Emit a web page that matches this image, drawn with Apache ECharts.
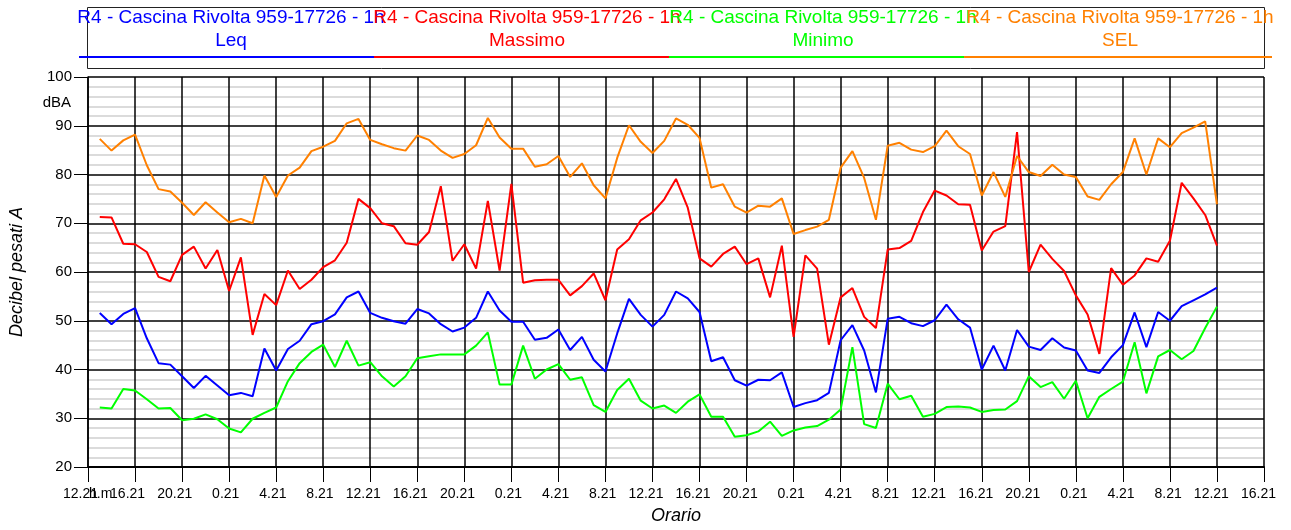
<!DOCTYPE html>
<html><head><meta charset="utf-8">
<script src="https://cdn.jsdelivr.net/npm/echarts@6/dist/echarts.min.js"></script>
<style>html,body{margin:0;padding:0;background:#fff}#c{width:1291px;height:530px}</style>
</head><body><div id="c"></div>
<script>
// ---- data ----
const tickLabels = ['12.21','16.21','20.21','0.21','4.21','8.21',
  '12.21','16.21','20.21','0.21','4.21','8.21',
  '12.21','16.21','20.21','0.21','4.21','8.21',
  '12.21','16.21','20.21','0.21','4.21','8.21',
  '12.21','16.21'];
const yTickLabels = ['20','30','40','50','60','70','80','90','100'];
const legendTitle = 'R4 - Cascina Rivolta 959-17726 - 1h';
const seriesNames = ['Leq','Massimo','Minimo','SEL'];
const yUnit = 'dBA';
const xUnit = 'h.m';
const yName = 'Decibel pesati A';
const xName = 'Orario';

const leq = [51.6,49.3,51.4,52.6,46.4,41.3,41.0,38.6,36.2,38.7,36.7,34.7,35.2,34.5,44.3,39.8,44.2,45.9,49.3,49.9,51.3,54.8,56.0,51.6,
  50.6,49.9,49.4,52.4,51.5,49.3,47.8,48.6,50.6,56.0,52.1,49.8,49.8,46.1,46.5,48.2,44.0,46.7,42.0,39.6,47.4,54.5,51.2,48.8,
  51.2,56.0,54.6,51.8,41.7,42.5,37.8,36.7,37.9,37.8,39.4,32.3,33.1,33.7,35.2,46.0,49.1,43.9,35.3,50.4,50.8,49.5,48.9,50.1,
  53.3,50.3,48.6,40.0,44.9,39.8,48.1,44.7,44.0,46.4,44.5,43.9,39.8,39.3,42.5,45.0,51.7,44.6,51.8,50.0,53.0,54.2,55.4,56.8];
const massimo = [71.3,71.2,65.8,65.7,64.1,59.0,58.1,63.5,65.2,60.7,64.5,56.1,63.0,47.1,55.5,53.2,60.3,56.5,58.4,61.0,62.4,66.0,75.0,73.1,
  70.0,69.4,65.9,65.6,68.2,77.6,62.3,65.7,60.7,74.6,60.3,78.1,57.8,58.3,58.4,58.4,55.2,57.1,59.7,54.2,64.6,66.7,70.6,72.2,
  74.9,79.1,73.2,62.8,61.1,63.7,65.2,61.6,62.8,54.8,65.4,46.7,63.4,60.7,45.1,54.8,56.7,50.8,48.5,64.6,64.9,66.4,72.3,76.7,
  75.7,73.9,73.8,64.4,68.3,69.4,88.7,60.0,65.6,62.7,60.2,55.2,51.3,43.2,60.8,57.4,59.3,62.8,62.1,66.4,78.3,75.1,71.7,65.4];
const minimo = [32.2,32.0,36.0,35.7,33.9,32.0,32.1,29.6,29.9,30.8,29.8,27.9,27.1,29.9,31.1,32.2,37.6,41.3,43.6,45.1,40.5,45.9,40.8,41.5,
  38.6,36.5,38.6,42.3,42.7,43.1,43.1,43.1,44.9,47.6,36.9,36.9,44.9,38.1,40.0,41.1,37.9,38.4,32.7,31.3,35.8,38.1,33.6,32.0,
  32.6,31.1,33.4,34.9,30.3,30.3,26.2,26.5,27.3,29.3,26.4,27.5,28.1,28.4,29.7,31.8,44.6,28.8,28.0,37.1,33.9,34.6,30.3,30.9,
  32.3,32.4,32.2,31.3,31.7,31.8,33.5,38.6,36.4,37.4,34.0,37.7,30.0,34.4,36.0,37.5,45.6,35.1,42.7,44.0,42.1,43.8,48.5,52.9];
const sel = [87.3,84.9,87.0,88.2,81.9,77.0,76.5,74.2,71.7,74.3,72.2,70.2,70.9,70.0,79.8,75.4,79.8,81.4,84.8,85.7,86.9,90.5,91.4,87.1,
  86.2,85.4,84.9,88.0,87.1,84.9,83.4,84.2,86.0,91.6,87.6,85.3,85.3,81.6,82.1,83.8,79.5,82.3,77.8,75.1,83.4,90.1,86.7,84.4,
  86.9,91.5,90.2,87.5,77.3,78.0,73.4,72.2,73.6,73.4,75.1,67.8,68.6,69.3,70.7,81.4,84.8,79.3,70.7,85.9,86.5,85.1,84.6,85.8,
  89.0,85.8,84.2,75.7,80.5,75.4,83.8,80.5,79.7,82.0,80.0,79.5,75.5,74.8,78.0,80.5,87.4,80.0,87.4,85.6,88.5,89.6,90.9,73.9];

// ---- styles ----
const colors = ['#0000ff','#ff0000','#00ff00','#ff8000'];
const FONT = '"Liberation Sans", Arial, sans-serif';
const values = [leq, massimo, minimo, sel];

const chart = echarts.init(document.getElementById('c'), null, {renderer:'canvas'});

function toPairs(arr){ return arr.map((v,i)=>[i+1, v]); } // hourly samples, hour index 1..N

const legendGraphics = [
  {type:'rect', shape:{x:87.5, y:7.5, width:1177, height:61}, style:{fill:'none', stroke:'#222', lineWidth:1}, silent:true}
];
const segX = [79, 374, 669, 964, 1272];
const textCx = [231, 527, 823, 1120];
seriesNames.forEach((n,i)=>{
  legendGraphics.push({type:'text', x:textCx[i], y:18, style:{text:legendTitle, fill:colors[i], font:'19px '+FONT, align:'center', verticalAlign:'middle'}});
  legendGraphics.push({type:'text', x:textCx[i], y:41, style:{text:n, fill:colors[i], font:'19px '+FONT, align:'center', verticalAlign:'middle'}});
  legendGraphics.push({type:'line', shape:{x1:segX[i], y1:57, x2:segX[i+1], y2:57}, style:{stroke:colors[i], lineWidth:2}});
});
legendGraphics.push({type:'text', x:71, y:103, style:{text:yUnit, fill:'#000', font:'15px '+FONT, align:'right', verticalAlign:'middle'}});
legendGraphics.push({type:'text', x:89, y:494, style:{text:xUnit, fill:'#000', font:'14px '+FONT, align:'left', verticalAlign:'middle'}});

const option = {
  animation:false,
  backgroundColor:'#fff',
  grid:[
    {left:86, right:27, top:77, bottom:60, containLabel:false},
    {left:98, right:15, top:77, bottom:60, containLabel:false}
  ],
  xAxis:[
    {type:'value', gridIndex:0, min:0, max:100, interval:4,
      axisLine:{show:true, lineStyle:{color:'#000', width:2}},
      axisTick:{show:true, length:15, lineStyle:{color:'#000', width:1}},
      axisLabel:{show:false},
      splitLine:{show:true, lineStyle:{color:'#000', width:1.5}},
      name:xName, nameLocation:'middle', nameGap:40,
      nameTextStyle:{fontFamily:FONT, fontSize:18, fontStyle:'italic', color:'#000'}
    },
    {type:'value', gridIndex:1, min:0, max:100, interval:4,
      axisLine:{show:false}, axisTick:{show:false}, splitLine:{show:false},
      axisLabel:{show:true, align:'right', margin:17, fontFamily:FONT, fontSize:14, color:'#000',
        formatter:(v)=>tickLabels[Math.round(v/4)] || ''}
    }
  ],
  yAxis:[
    {type:'value', gridIndex:0, min:20, max:100, interval:10,
      axisLine:{show:true, lineStyle:{color:'#000', width:1.5}},
      axisTick:{show:true, length:14, lineStyle:{color:'#000', width:1}},
      axisLabel:{margin:16, fontFamily:FONT, fontSize:15, color:'#000',
        formatter:(v)=>yTickLabels[Math.round((v-20)/10)] || ''},
      splitLine:{show:true, lineStyle:{color:'#000', width:1.5}},
      minorTick:{show:false, splitNumber:5},
      minorSplitLine:{show:true, lineStyle:{color:'#d0d0d0', width:1.5}},
      name:yName, nameLocation:'middle', nameGap:62,
      nameTextStyle:{fontFamily:FONT, fontSize:18, fontStyle:'italic', color:'#000'}
    },
    {type:'value', gridIndex:1, min:20, max:100, show:false}
  ],
  series: values.map((arr,i)=>({
    type:'line', name:seriesNames[i], xAxisIndex:0, yAxisIndex:0,
    data:toPairs(arr), showSymbol:false, symbol:'none',
    lineStyle:{color:colors[i], width:2}, itemStyle:{color:colors[i]}, z:3
  })),
  graphic: legendGraphics
};
chart.setOption(option);
</script>
</body></html>
